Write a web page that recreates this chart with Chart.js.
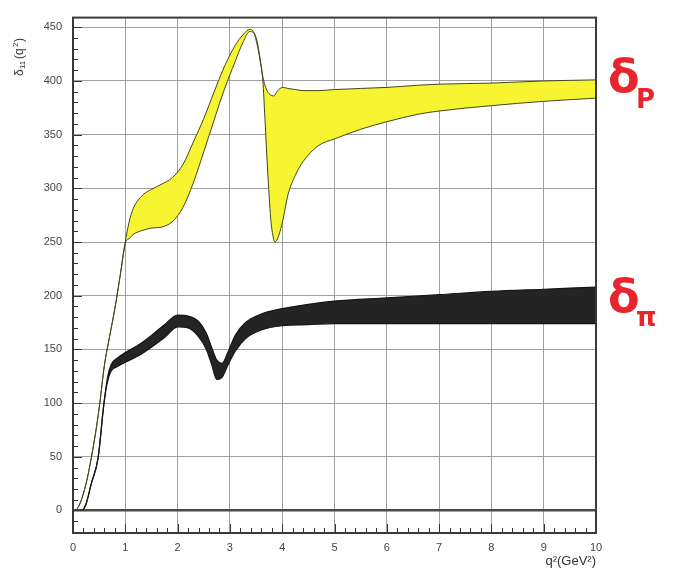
<!DOCTYPE html>
<html>
<head>
<meta charset="utf-8">
<script src="https://cdn.jsdelivr.net/npm/chart.js@4/dist/chart.umd.min.js"></script>
<style>
  body { margin: 0; background: #fff; }
  canvas { display: block; }
</style>
</head>
<body>
<canvas id="chart" width="689" height="569"></canvas>
<script>
// Фаза P-хвилі: верхня та нижня межі жовтої смуги
const pX = [0.06, 0.13, 0.25, 0.35, 0.45, 0.51, 0.6, 0.7, 0.8, 0.9, 1.0, 1.07, 1.15, 1.34, 1.5, 1.7, 1.9, 2.1, 2.3, 2.5, 2.7, 2.9, 3.1, 3.25, 3.38, 3.45, 3.52, 3.58, 3.63, 3.67, 3.72, 3.78, 3.83, 3.86, 3.9, 3.96, 4.02, 4.11, 4.25, 4.4, 4.7, 5.0, 5.5, 6.0, 6.6, 7, 8, 9, 10];
const pUpper = [0, 6, 25, 49, 78, 99, 135, 162, 188, 218, 250, 268, 281, 294, 299, 304, 310, 322, 343, 365, 390, 414, 433, 443, 448, 446, 437, 420, 404, 396, 390, 387, 386, 387, 390, 393, 394, 393, 392, 391, 391, 392, 393, 394, 396, 397, 398, 400, 401];
const pLower = [0, 6, 25, 49, 78, 99, 135, 162, 188, 218, 249, 253, 257, 261, 263, 264, 269, 282, 305, 334, 364, 393, 418, 436, 446, 445, 434, 418, 400, 365, 318, 272, 254, 250, 252, 260, 272, 294, 312, 325, 340, 346, 355, 362, 369, 372, 377, 381, 384];

// Фаза пі-мезонного каналу: чорна смуга
const piX = [0.19, 0.25, 0.35, 0.48, 0.59, 0.66, 0.73, 0.85, 1.0, 1.25, 1.5, 1.75, 2.0, 2.2, 2.4, 2.55, 2.65, 2.75, 2.85, 2.95, 3.1, 3.3, 3.6, 4.0, 4.5, 5, 6, 7, 8, 9, 10];
const piUpper = [0, 6, 25, 49, 99, 124, 136, 142, 147, 154, 163, 173, 182, 181, 176, 165, 152, 140, 137, 146, 163, 175, 183, 188, 192, 195, 198, 201, 204, 206, 208];
const piLower = [0, 6, 25, 49, 99, 120, 130, 134, 138, 144, 152, 161, 171, 170, 162, 150, 136, 122, 124, 134, 148, 160, 168, 172, 173, 174, 174, 174, 174, 174, 174];

const xTickValues = [0, 1, 2, 3, 4, 5, 6, 7, 8, 9, 10];
const yTickValues = [0, 50, 100, 150, 200, 250, 300, 350, 400, 450];

const toPoints = (xs, ys) => xs.map((x, i) => ({ x, y: ys[i] }));

// Рамка та дрібні засічки всередині області графіка
const framePlugin = {
  id: 'frame',
  afterDatasetsDraw(chart) {
    const { ctx, chartArea: a, scales: { x, y } } = chart;
    ctx.save();
    ctx.strokeStyle = '#333';
    ctx.lineWidth = 1;
    ctx.beginPath();
    for (let v = 0; v <= 10.001; v += 0.2) {
      const px = Math.round(x.getPixelForValue(v)) + 0.5;
      const len = Math.abs(v - Math.round(v)) < 0.01 ? 9 : 5;
      ctx.moveTo(px, a.bottom);
      ctx.lineTo(px, a.bottom - len);
    }
    for (let v = -20; v <= 450; v += 10) {
      const py = Math.round(y.getPixelForValue(v)) + 0.5;
      const len = v % 50 === 0 ? 9 : 5;
      ctx.moveTo(a.left, py);
      ctx.lineTo(a.left + len, py);
    }
    ctx.stroke();
    ctx.lineWidth = 2;
    ctx.strokeStyle = '#3a3a3a';
    ctx.strokeRect(a.left, a.top, a.right - a.left, a.bottom - a.top);
    ctx.restore();
  },
  afterDraw(chart) {
    const { ctx } = chart;
    ctx.save();
    // підпис осі Y з індексом
    ctx.translate(20, 76);
    ctx.rotate(-Math.PI / 2);
    ctx.fillStyle = '#333';
    ctx.textBaseline = 'middle';
    ctx.font = '12px "Liberation Sans", Arial, sans-serif';
    ctx.fillText('δ', 0, 0);
    ctx.font = '8px "Liberation Sans", Arial, sans-serif';
    ctx.fillText('11', 7, 3);
    ctx.font = '12px "Liberation Sans", Arial, sans-serif';
    ctx.fillText('(q', 17, 0);
    ctx.font = '8px "Liberation Sans", Arial, sans-serif';
    ctx.fillText('2', 29, -4);
    ctx.font = '12px "Liberation Sans", Arial, sans-serif';
    ctx.fillText(')', 34, 0);
    ctx.restore();

    // червоні рукописні позначки смуг
    ctx.save();
    ctx.fillStyle = '#e8252d';
    ctx.textBaseline = 'alphabetic';
    ctx.font = 'bold 46px "DejaVu Sans", sans-serif';
    ctx.fillText('δ', 608, 92);
    ctx.fillText('δ', 608, 312);
    ctx.font = 'bold 26px "DejaVu Sans", sans-serif';
    ctx.fillText('P', 636, 108);
    ctx.fillText('π', 636, 326);
    ctx.restore();
  }
};

new Chart(document.getElementById('chart'), {
  type: 'line',
  data: {
    datasets: [
      {
        data: toPoints(pX, pUpper),
        borderColor: '#45451c',
        borderWidth: 1,
        fill: false
      },
      {
        data: toPoints(pX, pLower),
        borderColor: '#45451c',
        borderWidth: 1,
        backgroundColor: '#f7f531',
        fill: '-1'
      },
      {
        data: toPoints(piX, piUpper),
        borderColor: '#151515',
        borderWidth: 1.2,
        fill: false
      },
      {
        data: toPoints(piX, piLower),
        borderColor: '#151515',
        borderWidth: 1.2,
        backgroundColor: '#242424',
        fill: '-1'
      }
    ]
  },
  options: {
    responsive: false,
    animation: false,
    layout: { padding: { top: 15, right: 93, left: 0, bottom: 0 } },
    elements: {
      point: { radius: 0 },
      line: { cubicInterpolationMode: 'monotone' }
    },
    plugins: {
      legend: { display: false },
      tooltip: { enabled: false }
    },
    scales: {
      x: {
        type: 'linear',
        min: 0,
        max: 10,
        afterBuildTicks: s => { s.ticks = xTickValues.map(v => ({ value: v })); },
        afterFit: s => { s.height = 36; },
        border: { display: false },
        grid: { color: '#a0a0a0', lineWidth: 1, drawTicks: false },
        ticks: {
          padding: 8,
          color: '#444',
          maxRotation: 0,
          font: { size: 11, family: '"Liberation Sans", Arial, sans-serif' }
        },
        title: {
          display: true,
          text: 'q²(GeV²)',
          align: 'end',
          color: '#333',
          padding: { top: 0, bottom: 0 },
          font: { size: 13, family: '"Liberation Sans", Arial, sans-serif' }
        }
      },
      y: {
        min: -21,
        max: 459,
        afterBuildTicks: s => { s.ticks = yTickValues.map(v => ({ value: v })); },
        afterFit: s => { s.width = 73; },
        border: { display: false },
        grid: {
          color: c => (c.tick && c.tick.value === 0 ? '#4a4a4a' : '#a0a0a0'),
          lineWidth: c => (c.tick && c.tick.value === 0 ? 2.5 : 1),
          drawTicks: false
        },
        ticks: {
          padding: 11,
          color: '#444',
          font: { size: 11, family: '"Liberation Sans", Arial, sans-serif' }
        }
      }
    }
  },
  plugins: [framePlugin]
});
</script>
</body>
</html>
